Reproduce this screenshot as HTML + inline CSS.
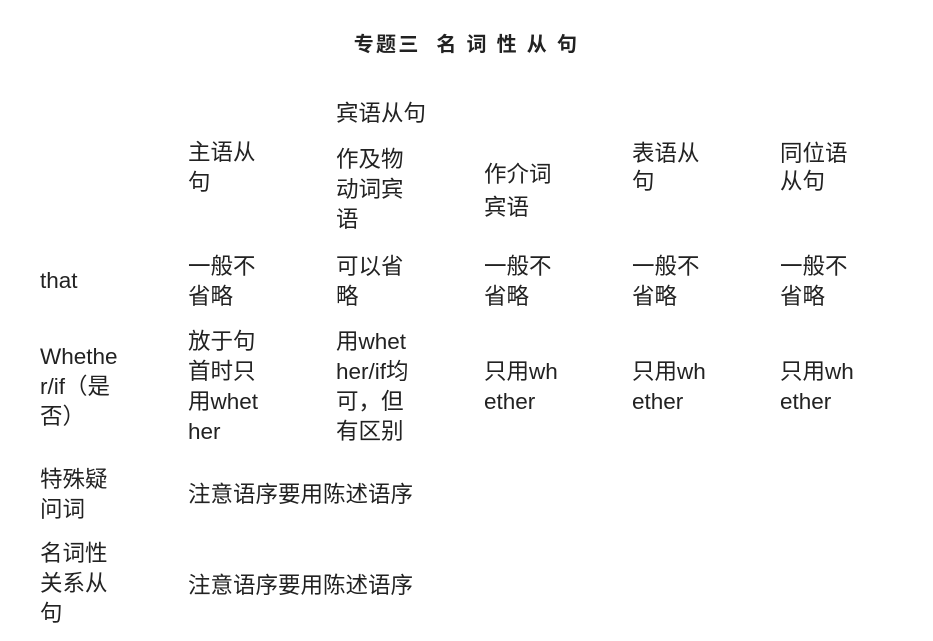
<!DOCTYPE html>
<html><head><meta charset="utf-8"><style>
body{margin:0;width:933px;height:641px;background:#fff;position:relative;overflow:hidden;
font-family:"Liberation Sans","Noto Sans CJK SC",sans-serif;color:#222;}
.t{position:absolute;font-size:22.5px;line-height:30px;white-space:pre;}
.h{position:absolute;left:0;width:933px;top:30px;text-align:center;font-weight:bold;font-size:20px;line-height:30px;letter-spacing:2.3px;}
</style></head><body>
<div class="h">专题三&nbsp; 名 词 性 从 句</div>
<div class="t" style="left:336px;top:99px">宾语从句</div>
<div class="t" style="left:188px;top:138px">主语从
句</div>
<div class="t" style="left:336px;top:145px">作及物
动词宾
语</div>
<div class="t" style="left:484px;top:158px;line-height:33px">作介词
宾语</div>
<div class="t" style="left:632px;top:140px;line-height:28px">表语从
句</div>
<div class="t" style="left:780px;top:140px;line-height:28px">同位语
从句</div>

<div class="t" style="left:40px;top:266px">that</div>
<div class="t" style="left:188px;top:252px">一般不
省略</div>
<div class="t" style="left:336px;top:252px">可以省
略</div>
<div class="t" style="left:484px;top:252px">一般不
省略</div>
<div class="t" style="left:632px;top:252px">一般不
省略</div>
<div class="t" style="left:780px;top:252px">一般不
省略</div>

<div class="t" style="left:40px;top:342px">Whethe
r/if（是
否）</div>
<div class="t" style="left:188px;top:327px">放于句
首时只
用whet
her</div>
<div class="t" style="left:336px;top:327px">用whet
her/if均
可，但
有区别</div>
<div class="t" style="left:484px;top:357px">只用wh
ether</div>
<div class="t" style="left:632px;top:357px">只用wh
ether</div>
<div class="t" style="left:780px;top:357px">只用wh
ether</div>

<div class="t" style="left:40px;top:465px">特殊疑
问词</div>
<div class="t" style="left:188px;top:480px">注意语序要用陈述语序</div>

<div class="t" style="left:40px;top:539px">名词性
关系从
句</div>
<div class="t" style="left:188px;top:571px">注意语序要用陈述语序</div>
</body></html>
